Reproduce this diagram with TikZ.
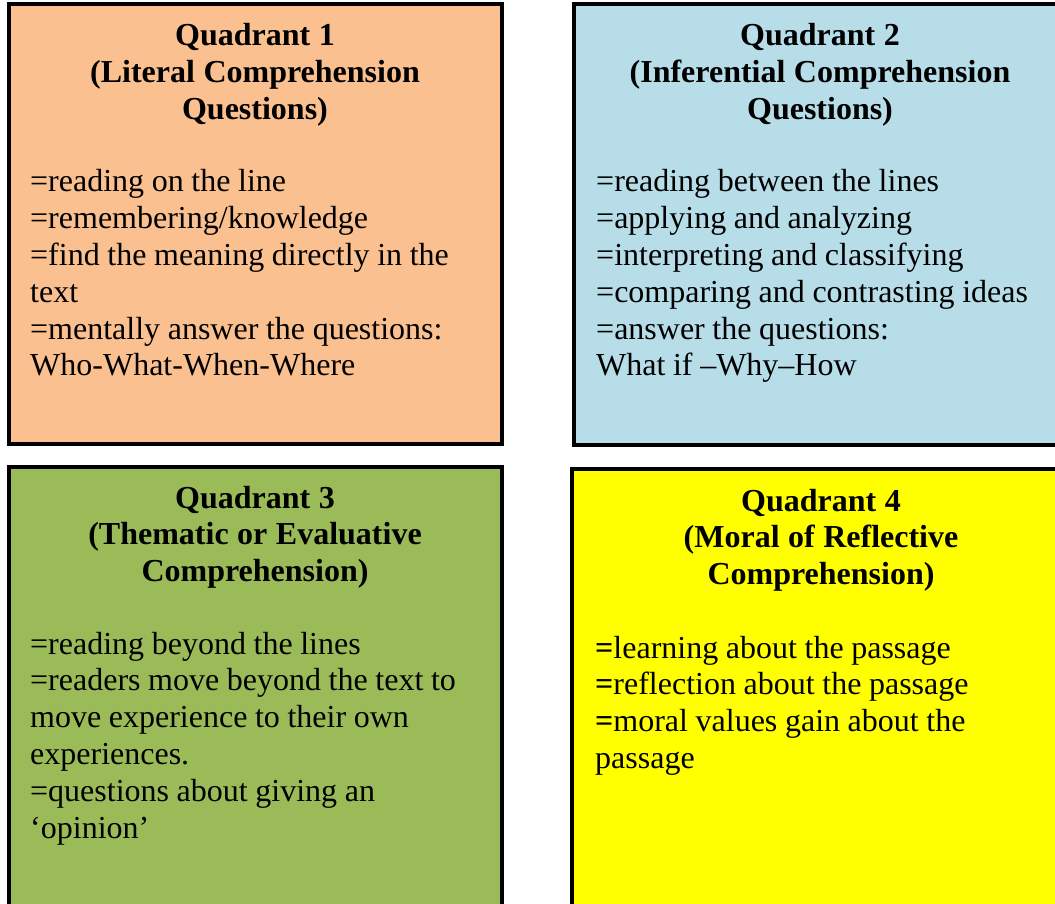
\documentclass[tikz,border=0pt]{standalone}
\usepackage{fontspec}
\setmainfont{Liberation Serif}
\definecolor{qone}{HTML}{FAC090}
\definecolor{qtwo}{HTML}{B7DDE8}
\definecolor{qthree}{HTML}{9BBB59}
\definecolor{qfour}{HTML}{FFFF00}
\newcommand\myheadspace{\spaceskip 8.5pt\relax}
\newcommand\mybodyspace{\spaceskip 7.6pt\relax}
\tikzset{
  quadbox/.style={draw=black, line width=4pt, rectangle, inner sep=0pt, outer sep=0pt, anchor=north west, minimum width=#1},
  heading/.style={font=\fontsize{32}{36.8}\selectfont\bfseries, execute at begin node=\myheadspace, text width=480pt, align=center, inner sep=0pt, anchor=base},
  bodytext/.style={font=\fontsize{32}{36.8}\selectfont, execute at begin node=\mybodyspace, text width=470pt, align=left, inner sep=0pt, anchor=base west},
}
\begin{document}
\begin{tikzpicture}[x=1pt,y=-1pt]
\useasboundingbox (0,0) rectangle (1055,904);
\fill[white] (0,0) rectangle (1055,904);
\begin{scope}
\clip (0,0) rectangle (1055,904);
\node[quadbox=493pt, fill=qone, minimum height=440pt] (b1) at (9,4) {};
\node[quadbox=494pt, fill=qtwo, minimum height=441pt] (b2) at (574,4) {};
\node[quadbox=493pt, fill=qthree, minimum height=450pt] (b3) at (9,467) {};
\node[quadbox=498pt, fill=qfour, minimum height=450pt] (b4) at (572,469) {};
\end{scope}

\node[heading] (h1) at (255,46) {Quadrant 1\\(Literal Comprehension\\Questions)};
\node[bodytext] (t1) at (30,192) {=reading on the line\\=remembering/knowledge\\=find the meaning directly in the\\text\\=mentally answer the questions:\\Who-What-When-Where};

\node[heading] (h2) at (820,46) {Quadrant 2\\(Inferential Comprehension\\Questions)};
\node[bodytext] (t2) at (596,192) {=reading between the lines\\=applying and analyzing\\=interpreting and classifying\\=comparing and contrasting ideas\\=answer the questions:\\What if –Why–How};

\node[heading] (h3) at (255,508) {Quadrant 3\\(Thematic or Evaluative\\Comprehension)};
\node[bodytext] (t3) at (30,654) {=reading beyond the lines\\=readers move beyond the text to\\move experience to their own\\experiences.\\=questions about giving an\\‘opinion’};

\node[heading] (h4) at (821,511) {Quadrant 4\\(Moral of Reflective\\Comprehension)};
\node[bodytext] (t4) at (595,658) {\textbf{=}learning about the passage\\\textbf{=}reflection about the passage\\\textbf{=}moral values gain about the\\passage};
\end{tikzpicture}
\end{document}
